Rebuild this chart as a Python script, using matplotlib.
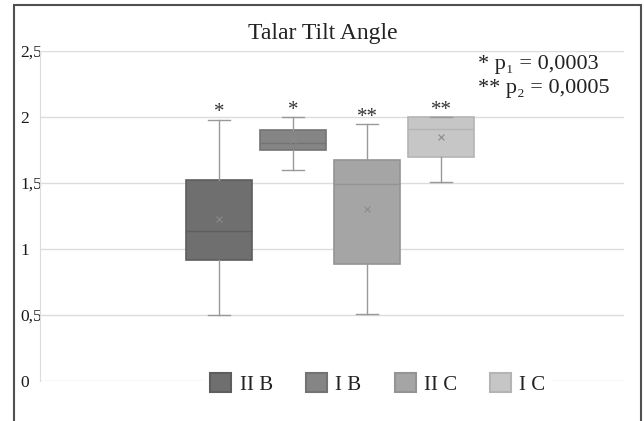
import numpy as np
import matplotlib.pyplot as plt
from matplotlib.patches import Patch, Rectangle

plt.rcParams['font.family'] = ['Liberation Serif', 'DejaVu Serif']

# Data
groups = ['II B', 'I B', 'II C', 'I C']
whislo = [0.50, 1.60, 0.51, 1.505]
q1 = [0.92, 1.75, 0.89, 1.70]
med = [1.14, 1.80, 1.49, 1.906]
q3 = [1.52, 1.905, 1.672, 2.00]
whishi = [1.98, 2.00, 1.944, 2.00]
means = [1.23, 1.826, 1.305, 1.85]
stars = ['*', '*', '**', '**']
yticks = [0, 0.5, 1, 1.5, 2, 2.5]
ytick_labels = ['0', '0,5', '1', '1,5', '2', '2,5']

face = ['#6f6f6f', '#858585', '#a5a5a5', '#c6c6c6']
edge = ['#5e5e5e', '#737373', '#949494', '#b4b4b4']

fig = plt.figure(figsize=(6.44, 4.21), dpi=100)
ax = fig.add_axes([40/644, 40/421, 584/644, 330/421])

stats = []
for i in range(len(groups)):
    stats.append(dict(label=groups[i], whislo=whislo[i], q1=q1[i], med=med[i],
                      q3=q3[i], whishi=whishi[i], mean=means[i], fliers=[]))

pos = np.arange(1, len(groups) + 1)
bp = ax.bxp(stats, positions=pos, widths=0.9, patch_artist=True, showmeans=True,
            meanprops=dict(marker='x', markersize=4, markeredgecolor='#8a8a8a',
                           markeredgewidth=0.8),
            medianprops=dict(linewidth=1),
            whiskerprops=dict(color='#999999', linewidth=1),
            capprops=dict(color='#999999', linewidth=1), capwidths=0.3)

for i, b in enumerate(bp['boxes']):
    b.set_facecolor(face[i])
    b.set_edgecolor(edge[i])
    b.set_linewidth(1.2)
    bp['medians'][i].set_color(edge[i])
    ax.text(pos[i], whishi[i] - 0.02, stars[i], ha='center', va='bottom', fontsize=15,
            color='#333333')

ax.set_xlim(1 - 179/74, 4 + 183/74)
ax.set_ylim(0, 2.5)
ax.set_yticks(yticks)
ax.set_yticklabels(ytick_labels, fontsize=12.5, color='#1a1a1a', ha='left')
ax.set_xticks([])
ax.tick_params(axis='y', length=0, pad=14.4)
ax.yaxis.grid(True, color='#dcdcdc', linewidth=1)
ax.set_axisbelow(True)
for s in ['top', 'right', 'bottom']:
    ax.spines[s].set_visible(False)
ax.spines['left'].set_color('#dcdcdc')

fig.text(323/644, 1 - 33/421, 'Talar Tilt Angle', ha='center', va='center', fontsize=17,
         color='#222222')
fig.text(478/644, 1 - 64/421, '* p\u2081 = 0,0003', ha='left', va='center', fontsize=16,
         color='#222222')
fig.text(478/644, 1 - 88/421, '** p\u2082 = 0,0005', ha='left', va='center', fontsize=16,
         color='#222222')

handles = [Patch(facecolor=face[i], edgecolor=edge[i], linewidth=1.5, label=groups[i])
           for i in range(len(groups))]
leg = fig.legend(handles=handles, loc='center', bbox_to_anchor=(378/644, 37/421), ncol=4,
                 frameon=True, facecolor='white', edgecolor='none', framealpha=1,
                 fontsize=15, handlelength=1.0, handleheight=1.0, handletextpad=0.4,
                 columnspacing=1.6, borderpad=0.3)
for t in leg.get_texts():
    t.set_color('#222222')

fig.patches.append(Rectangle((13.5/644, -0.1), 627.5/644, 1.1 - 5.5/421, transform=fig.transFigure,
                             fill=False, edgecolor='#505050', linewidth=1.5, clip_on=False))

fig.savefig('out.png', dpi=100)
